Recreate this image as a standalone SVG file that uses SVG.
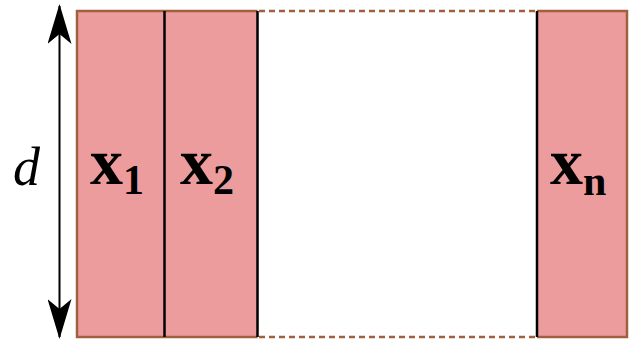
<svg xmlns="http://www.w3.org/2000/svg" width="629" height="340" viewBox="0 0 629 340">
<style>
.cell{fill:#ec9c9c;stroke:none}
.border{fill:none;stroke:#a0603e;stroke-width:2.5}
.dash{fill:none;stroke:#a0603e;stroke-width:2.5;stroke-dasharray:6 4}
.sep{stroke:#000;stroke-width:2.5}
.lbl{font-family:"Liberation Serif",serif;font-weight:bold;fill:#000}
.main{font-size:66px}
.sub{font-size:42px}
.d{font-family:"Liberation Serif",serif;font-style:italic;font-size:54px;fill:#000}
</style>
<defs>
<marker id="ah" viewBox="0 0 40 24" refX="38" refY="12" markerWidth="40" markerHeight="24" markerUnits="userSpaceOnUse" orient="auto-start-reverse">
<path d="M40 12 L0 0 L10 12 L0 24 Z" fill="#000"/>
</marker>
</defs>
<g id="x1">
<rect class="cell" x="77" y="11" width="87.5" height="326"/>
<text class="lbl" x="90" y="184"><tspan class="main">x</tspan><tspan class="sub" dy="10">1</tspan></text>
</g>
<g id="x2">
<rect class="cell" x="164.5" y="11" width="93" height="326"/>
<text class="lbl" x="180" y="184"><tspan class="main">x</tspan><tspan class="sub" dy="10">2</tspan></text>
</g>
<g id="xn">
<rect class="cell" x="537" y="11" width="90" height="326"/>
<text class="lbl" x="550" y="184"><tspan class="main">x</tspan><tspan class="sub" dy="11">n</tspan></text>
</g>
<g id="frame">
<path class="border" d="M257.5 11 H77 V337 H257.5"/>
<path class="border" d="M537 11 H627 V337 H537"/>
<path class="dash" d="M259 11 H536"/>
<path class="dash" d="M259 337 H536"/>
</g>
<g id="connectors">
<line class="sep" x1="164.5" y1="11" x2="164.5" y2="337"/>
<line class="sep" x1="257.5" y1="11" x2="257.5" y2="337"/>
<line class="sep" x1="537" y1="11" x2="537" y2="337"/>
<line x1="59.5" y1="6" x2="59.5" y2="337" stroke="#000" stroke-width="2" marker-start="url(#ah)" marker-end="url(#ah)"/>
</g>
<g id="dim">
<text class="d" x="13" y="185">d</text>
</g>
</svg>
